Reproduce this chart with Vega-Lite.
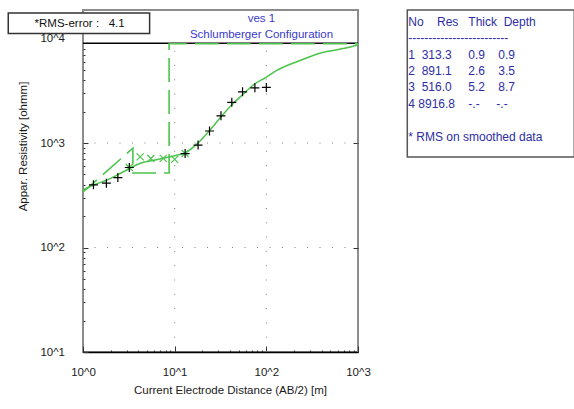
{
  "$schema": "https://vega.github.io/schema/vega-lite/v6.json",
  "background": "white",
  "padding": {"left": 6, "top": 9, "right": 0, "bottom": 0},
  "spacing": 49.3,
  "bounds": "flush",
  "config": {"font": "Liberation Sans", "text": {"font": "Liberation Sans"}},
  "hconcat": [
    {
      "width": 275,
      "height": 342,
      "view": {"stroke": "#8c8c8c", "strokeWidth": 2, "fill": "white"},
      "resolve": {"axis": {"y": "independent", "x": "independent"}},
      "layer": [
        {
          "data": {"values": [{"v": 100}, {"v": 1000}]},
          "mark": {"type": "rule", "color": "#808080", "strokeWidth": 1, "strokeDash": [1, 11.5]},
          "encoding": {
            "y": {"field": "v", "type": "quantitative", "scale": {"type": "log", "domain": [10, 18740], "nice": false}, "axis": null}
          }
        },
        {
          "data": {"values": [{"v": 10}, {"v": 100}]},
          "mark": {"type": "rule", "color": "#808080", "strokeWidth": 1, "strokeDash": [1, 13.3]},
          "encoding": {
            "x": {"field": "v", "type": "quantitative", "scale": {"type": "log", "domain": [1, 1000], "nice": false}, "axis": null},
            "y": {"datum": 10, "type": "quantitative", "scale": {"type": "log", "domain": [10, 18740], "nice": false}, "axis": null},
            "y2": {"datum": 9000}
          }
        },
        {
          "data": {"values": [{}]},
          "mark": {"type": "rule", "color": "black", "strokeWidth": 1.5},
          "encoding": {
            "y": {"datum": 9000, "type": "quantitative", "scale": {"type": "log", "domain": [10, 18740], "nice": false}, "axis": null}
          }
        },
        {
          "data": {"values": [
            {"ab": 0.9, "res": 313.3},
            {"ab": 3.5, "res": 891.1},
            {"ab": 3.5, "res": 516.0},
            {"ab": 8.7, "res": 516.0},
            {"ab": 8.7, "res": 8916.8},
            {"ab": 1000, "res": 8916.8}
          ]},
          "mark": {"type": "line", "color": "#4cc44c", "strokeWidth": 1.6, "strokeDash": [24, 8], "clip": true},
          "encoding": {
            "x": {"field": "ab", "type": "quantitative", "scale": {"type": "log", "domain": [1, 1000], "nice": false}, "axis": null},
            "y": {"field": "res", "type": "quantitative", "scale": {"type": "log", "domain": [10, 18740], "nice": false}, "axis": null}
          }
        },
        {
          "data": {"values": [
            {"ab": 1.0, "res": 355},
            {"ab": 1.306, "res": 396},
            {"ab": 1.828, "res": 442},
            {"ab": 2.44, "res": 501},
            {"ab": 3.14, "res": 564},
            {"ab": 4.22, "res": 640},
            {"ab": 5.56, "res": 677},
            {"ab": 7.46, "res": 713},
            {"ab": 9.98, "res": 755},
            {"ab": 13.06, "res": 807},
            {"ab": 17.8, "res": 993},
            {"ab": 24.0, "res": 1312},
            {"ab": 31.7, "res": 1760},
            {"ab": 41.8, "res": 2310},
            {"ab": 54.7, "res": 2880},
            {"ab": 74.5, "res": 3670},
            {"ab": 100.7, "res": 4280},
            {"ab": 133, "res": 5000},
            {"ab": 240, "res": 6220},
            {"ab": 398, "res": 7310},
            {"ab": 714, "res": 8050},
            {"ab": 1000, "res": 8670}
          ]},
          "mark": {"type": "line", "color": "#4cc44c", "strokeWidth": 1.5, "interpolate": "monotone"},
          "encoding": {
            "x": {
              "field": "ab", "type": "quantitative",
              "scale": {"type": "log", "domain": [1, 1000], "nice": false},
              "axis": {
                "orient": "bottom",
                "values": [1, 2, 3, 4, 5, 6, 7, 8, 9, 10, 20, 30, 40, 50, 60, 70, 80, 90, 100, 200, 300, 400, 500, 600, 700, 800, 900, 1000],
                "labelExpr": "abs(log(datum.value)/LN10 - round(log(datum.value)/LN10)) < 0.001 ? '10^' + round(log(datum.value)/LN10) : ''",
                "labelFontSize": 11.5, "labelColor": "#1a1a1a", "labelPadding": 20.5,
                "labelOverlap": false, "labelBound": false, "labelFlush": false,
                "tickSize": -6, "tickColor": "#333333", "tickWidth": 1,
                "tickDash": {"condition": {"test": "abs(log(datum.value)/LN10 - round(log(datum.value)/LN10)) < 0.001", "value": [10, 0]}, "value": [2, 30]},
                "domain": true, "domainColor": "black", "domainWidth": 1.5, "grid": false,
                "title": "Current Electrode Distance (AB/2) [m]",
                "titleFontSize": 11.5, "titleFontWeight": "normal", "titleColor": "#1a1a1a",
                "titleX": 147, "titleY": 38, "titleAlign": "center", "titleBaseline": "middle"
              }
            },
            "y": {
              "field": "res", "type": "quantitative",
              "scale": {"type": "log", "domain": [10, 18740], "nice": false},
              "axis": {
                "orient": "left",
                "values": [10, 20, 30, 40, 50, 60, 70, 80, 90, 100, 200, 300, 400, 500, 600, 700, 800, 900, 1000, 2000, 3000, 4000, 5000, 6000, 7000, 8000, 9000, 10000],
                "labelExpr": "abs(log(datum.value)/LN10 - round(log(datum.value)/LN10)) < 0.001 ? '10^' + round(log(datum.value)/LN10) : ''",
                "labelFontSize": 11.5, "labelColor": "#1a1a1a", "labelPadding": 23.5,
                "labelOverlap": false, "labelBound": false, "labelFlush": false,
                "tickSize": -5, "tickColor": "#333333", "tickWidth": 1,
                "tickDash": {"condition": {"test": "abs(log(datum.value)/LN10 - round(log(datum.value)/LN10)) < 0.001", "value": [10, 0]}, "value": [2, 30]},
                "tickOpacity": {"condition": {"test": "datum.value > 9500", "value": 0}, "value": 1},
                "domain": false, "grid": false,
                "title": "Appar. Resistivity [ohmm]",
                "titleFontSize": 11.5, "titleFontWeight": "normal", "titleColor": "#1a1a1a",
                "titleX": -60, "titleY": 136, "titleAngle": -90, "titleAlign": "center", "titleBaseline": "middle"
              }
            }
          }
        },
        {
          "data": {"values": [
            {"ab": 3.2, "res": 583},
            {"ab": 4.2, "res": 737},
            {"ab": 5.5, "res": 710},
            {"ab": 7.5, "res": 713},
            {"ab": 10, "res": 697},
            {"ab": 13, "res": 793}
          ]},
          "mark": {"type": "point", "shape": "M-1,-1L1,1M-1,1L1,-1", "size": 49, "filled": false, "stroke": "#4cc44c", "strokeWidth": 1.2, "opacity": 1},
          "encoding": {
            "x": {"field": "ab", "type": "quantitative", "scale": {"type": "log", "domain": [1, 1000], "nice": false}, "axis": null},
            "y": {"field": "res", "type": "quantitative", "scale": {"type": "log", "domain": [10, 18740], "nice": false}, "axis": null}
          }
        },
        {
          "data": {"values": [
            {"ab": 1.3, "res": 398},
            {"ab": 1.8, "res": 413},
            {"ab": 2.4, "res": 467},
            {"ab": 3.2, "res": 583},
            {"ab": 13, "res": 793},
            {"ab": 18, "res": 955},
            {"ab": 24, "res": 1303},
            {"ab": 32, "res": 1820},
            {"ab": 42, "res": 2450},
            {"ab": 55, "res": 3090},
            {"ab": 75, "res": 3375},
            {"ab": 100, "res": 3400}
          ]},
          "mark": {"type": "point", "shape": "M-1,0L1,0M0,-1L0,1", "size": 81, "filled": false, "stroke": "black", "strokeWidth": 1.2, "opacity": 1},
          "encoding": {
            "x": {"field": "ab", "type": "quantitative", "scale": {"type": "log", "domain": [1, 1000], "nice": false}, "axis": null},
            "y": {
              "field": "res", "type": "quantitative",
              "scale": {"type": "log", "domain": [10, 18740], "nice": false},
              "axis": {"orient": "right", "values": [100, 1000], "labels": false, "domain": false, "grid": false, "title": null, "tickSize": -5, "tickColor": "#333333"}
            }
          }
        },
        {
          "data": {"values": [{}]},
          "mark": {"type": "rect", "fill": "white", "stroke": "#333333", "strokeWidth": 1.5, "clip": false},
          "encoding": {
            "x": {"datum": 0.153, "type": "quantitative", "scale": {"type": "log", "domain": [1, 1000], "nice": false}, "axis": null},
            "x2": {"datum": 5.33},
            "y": {"datum": 17540, "type": "quantitative", "scale": {"type": "log", "domain": [10, 18740], "nice": false}, "axis": null},
            "y2": {"datum": 11140}
          }
        },
        {
          "data": {"values": [{"label": "*RMS-error :\u00a0\u00a0 4.1"}]},
          "mark": {"type": "text", "align": "center", "baseline": "middle", "fontSize": 11.5, "color": "#111111"},
          "encoding": {
            "x": {"datum": 0.918, "type": "quantitative", "scale": {"type": "log", "domain": [1, 1000], "nice": false}, "axis": null},
            "y": {"datum": 13670, "type": "quantitative", "scale": {"type": "log", "domain": [10, 18740], "nice": false}, "axis": null},
            "text": {"field": "label"}
          }
        },
        {
          "data": {"values": [{"label": "ves 1"}]},
          "mark": {"type": "text", "align": "center", "baseline": "middle", "fontSize": 11.5, "color": "#3a3acc"},
          "encoding": {
            "x": {"datum": 88.5, "type": "quantitative", "scale": {"type": "log", "domain": [1, 1000], "nice": false}, "axis": null},
            "y": {"datum": 15280, "type": "quantitative", "scale": {"type": "log", "domain": [10, 18740], "nice": false}, "axis": null},
            "text": {"field": "label"}
          }
        },
        {
          "data": {"values": [{"label": "Schlumberger Configuration"}]},
          "mark": {"type": "text", "align": "center", "baseline": "middle", "fontSize": 11.5, "color": "#3a3acc"},
          "encoding": {
            "x": {"datum": 88.5, "type": "quantitative", "scale": {"type": "log", "domain": [1, 1000], "nice": false}, "axis": null},
            "y": {"datum": 10900, "type": "quantitative", "scale": {"type": "log", "domain": [10, 18740], "nice": false}, "axis": null},
            "text": {"field": "label"}
          }
        }
      ]
    },
    {
      "width": 167,
      "height": 147,
      "view": {"stroke": "#555555", "strokeWidth": 1.5, "fill": "white"},
      "data": {"values": [
        {"row": 0, "line": "\u00a0No\u00a0\u00a0\u00a0\u00a0Res\u00a0\u00a0\u00a0Thick\u00a0\u00a0Depth"},
        {"row": 1, "line": "\u00a0-------------------------"},
        {"row": 2, "line": "\u00a0\u00a01\u00a0\u00a0313.3\u00a0\u00a0\u00a0\u00a0\u00a00.9\u00a0\u00a0\u00a0\u00a00.9"},
        {"row": 3, "line": "\u00a0\u00a02\u00a0\u00a0891.1\u00a0\u00a0\u00a0\u00a0\u00a02.6\u00a0\u00a0\u00a0\u00a03.5"},
        {"row": 4, "line": "\u00a0\u00a03\u00a0\u00a0516.0\u00a0\u00a0\u00a0\u00a0\u00a05.2\u00a0\u00a0\u00a0\u00a08.7"},
        {"row": 5, "line": "\u00a0\u00a04\u00a08916.8\u00a0\u00a0\u00a0\u00a0-.-\u00a0\u00a0\u00a0\u00a0\u00a0-.-"},
        {"row": 6, "line": ""},
        {"row": 7, "line": "* RMS on smoothed data"}
      ]},
      "mark": {"type": "text", "align": "left", "baseline": "middle", "fontSize": 12, "color": "#2d2da6", "dx": 1},
      "encoding": {
        "x": {"datum": 0, "type": "quantitative", "scale": {"domain": [0, 1]}, "axis": null},
        "y": {"field": "row", "type": "ordinal", "axis": null, "scale": {"type": "point", "padding": 0.993, "align": 0.37}},
        "text": {"field": "line"}
      }
    }
  ]
}
